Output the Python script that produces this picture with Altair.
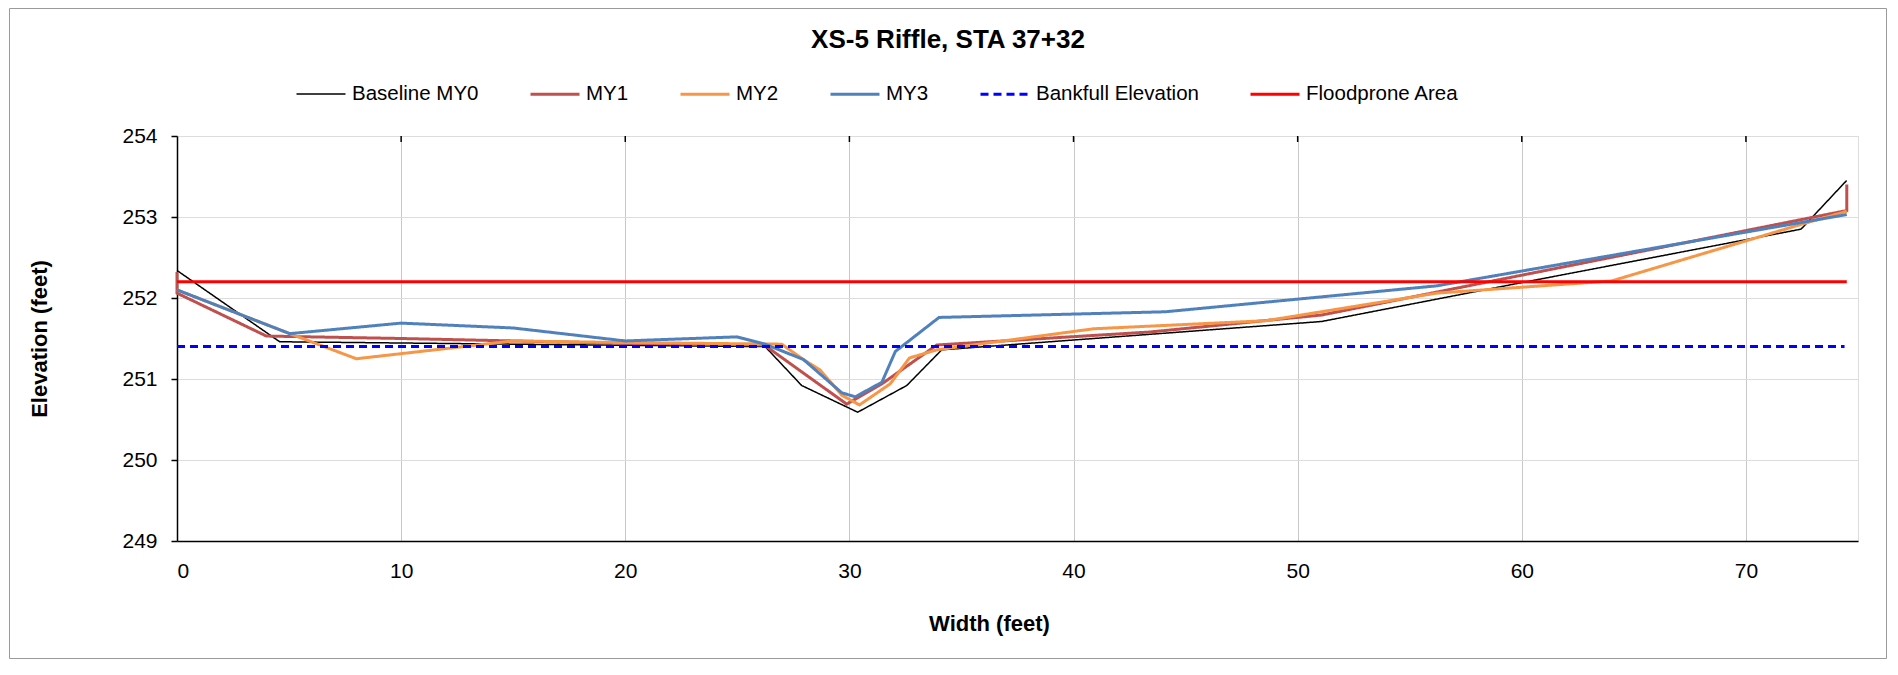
import altair as alt
import pandas as pd

# ---- data ----
series_names = ["Baseline MY0", "MY1", "MY2", "MY3", "Bankfull Elevation", "Floodprone Area"]
series_colors = ["#000000", "#C0504D", "#F79646", "#4F81BD", "#0000FF", "#FF0000"]
series_dashes = [[1, 0], [1, 0], [1, 0], [1, 0], [8, 5], [1, 0]]
series_widths = [1.5, 3, 3, 3, 3, 3]

my0_x = [0, 4.58, 15.0, 26.24, 27.87, 30.37, 32.56, 34.12, 51.07, 60.0, 72.46, 74.49]
my0_y = [252.34, 251.46, 251.43, 251.40, 250.92, 250.59, 250.92, 251.36, 251.71, 252.19, 252.85, 253.45]

my1_x = [0, 0, 3.99, 10, 20, 26.2, 29.88, 31.5, 33.9, 43.4, 51.07, 74.5, 74.5]
my1_y = [252.32, 252.06, 251.53, 251.50, 251.44, 251.42, 250.69, 250.95, 251.42, 251.58, 251.79, 253.08, 253.40]

my2_x = [0, 5.03, 8.0, 15.0, 20, 26.98, 27.95, 28.7, 29.66, 30.45, 31.82, 32.68, 33.9, 40.9, 48.6, 56.2, 64.0, 72.6, 74.5]
my2_y = [252.10, 251.56, 251.25, 251.47, 251.45, 251.43, 251.24, 251.11, 250.80, 250.68, 250.94, 251.26, 251.36, 251.62, 251.72, 252.06, 252.21, 252.92, 253.07]

my3_x = [0, 5.03, 10, 15, 20, 24.97, 26.24, 27.95, 29.66, 30.26, 31.45, 32.05, 34.0, 44.1, 56.2, 74.5]
my3_y = [252.10, 251.56, 251.69, 251.63, 251.47, 251.52, 251.43, 251.24, 250.83, 250.78, 250.96, 251.34, 251.76, 251.83, 252.15, 253.03]

bankfull_x = [0, 74.4]
bankfull_y = [251.4, 251.4]

floodprone_x = [0, 74.5]
floodprone_y = [252.2, 252.2]

x_ticks = [0, 10, 20, 30, 40, 50, 60, 70]
top_ticks = [10, 20, 30, 40, 50, 60, 70]
y_ticks = [249, 250, 251, 252, 253, 254]

rows = []
for name, xs, ys in zip(series_names,
                        [my0_x, my1_x, my2_x, my3_x, bankfull_x, floodprone_x],
                        [my0_y, my1_y, my2_y, my3_y, bankfull_y, floodprone_y]):
    for i, (xv, yv) in enumerate(zip(xs, ys)):
        rows.append({"series": name, "width": xv, "elev": yv, "idx": i})
df = pd.DataFrame(rows)

FONT = "Liberation Sans"

x_scale = alt.Scale(domain=[0, 75], nice=False, zero=False)
y_scale = alt.Scale(domain=[249, 254], nice=False, zero=False)


def make_legend():
    return alt.Legend(
        title=None, orient="none", legendX=118, legendY=-68,
        direction="horizontal", columns=6,
        symbolType="stroke", symbolSize=2401,
        labelFontSize=20.5, labelFont=FONT, labelColor="black",
        columnPadding=45, labelOffset=5, padding=0, labelLimit=400,
    )


lines = alt.Chart(df).mark_line(strokeJoin="miter", strokeCap="butt").encode(
    x=alt.X("width:Q", scale=x_scale,
            axis=alt.Axis(values=x_ticks, format="d", title="Width (feet)",
                          titleFontSize=22, titleFontWeight="bold", titleFont=FONT,
                          titleX=812, titleY=89, titleBaseline="alphabetic",
                          labelFontSize=21, labelFont=FONT, labelColor="black",
                          labelPadding=19, ticks=False, domainColor="black",
                          domainWidth=1.5, gridColor="#C8C8C8", gridWidth=1)),
    y=alt.Y("elev:Q", scale=y_scale,
            axis=alt.Axis(values=y_ticks, format="d", title="Elevation (feet)",
                          titleFontSize=22, titleFontWeight="bold", titleFont=FONT,
                          titleX=-131, titleY=202.5, titleBaseline="alphabetic",
                          titleAngle=270, titleAlign="center",
                          labelFontSize=21, labelFont=FONT, labelColor="black",
                          labelPadding=14, tickSize=6, tickColor="black", tickWidth=1.5,
                          domainColor="black", domainWidth=1.5,
                          gridColor="#DDDDDD", gridWidth=1)),
    color=alt.Color("series:N", scale=alt.Scale(domain=series_names, range=series_colors),
                    legend=make_legend()),
    strokeDash=alt.StrokeDash("series:N", scale=alt.Scale(domain=series_names, range=series_dashes),
                              legend=make_legend()),
    strokeWidth=alt.StrokeWidth("series:N",
                                scale=alt.Scale(type="ordinal", domain=series_names, range=series_widths),
                                legend=make_legend()),
    order="idx:Q",
)

tick_df = pd.DataFrame({"t": top_ticks})
top_tick_marks = alt.Chart(tick_df).mark_rule(color="black", strokeWidth=1.5).encode(
    x=alt.X("t:Q", scale=x_scale),
    y=alt.value(0),
    y2=alt.value(6),
)

border = alt.Chart(tick_df.head(1)).mark_rect(filled=False, stroke="#9A9A9A", strokeWidth=1).encode(
    x=alt.value(-167.5), x2=alt.value(1709.5),
    y=alt.value(-127.5), y2=alt.value(522.5),
)

chart = alt.layer(border, lines, top_tick_marks).properties(
    width=1681,
    height=405,
    padding={"left": 169, "top": 128, "right": 30, "bottom": 122},
    autosize=alt.AutoSizeParams(type="none"),
    title=alt.Title("XS-5 Riffle, STA 37+32", fontSize=26, fontWeight="bold", font=FONT,
                    anchor="middle", frame="group", dx=-69.5, offset=0, dy=66,
                    baseline="alphabetic", color="black"),
).configure_view(
    stroke="#333333", strokeWidth=2
).configure(background="white", font=FONT)

chart.save("out.html", embed_options={"renderer": "svg", "actions": False})
